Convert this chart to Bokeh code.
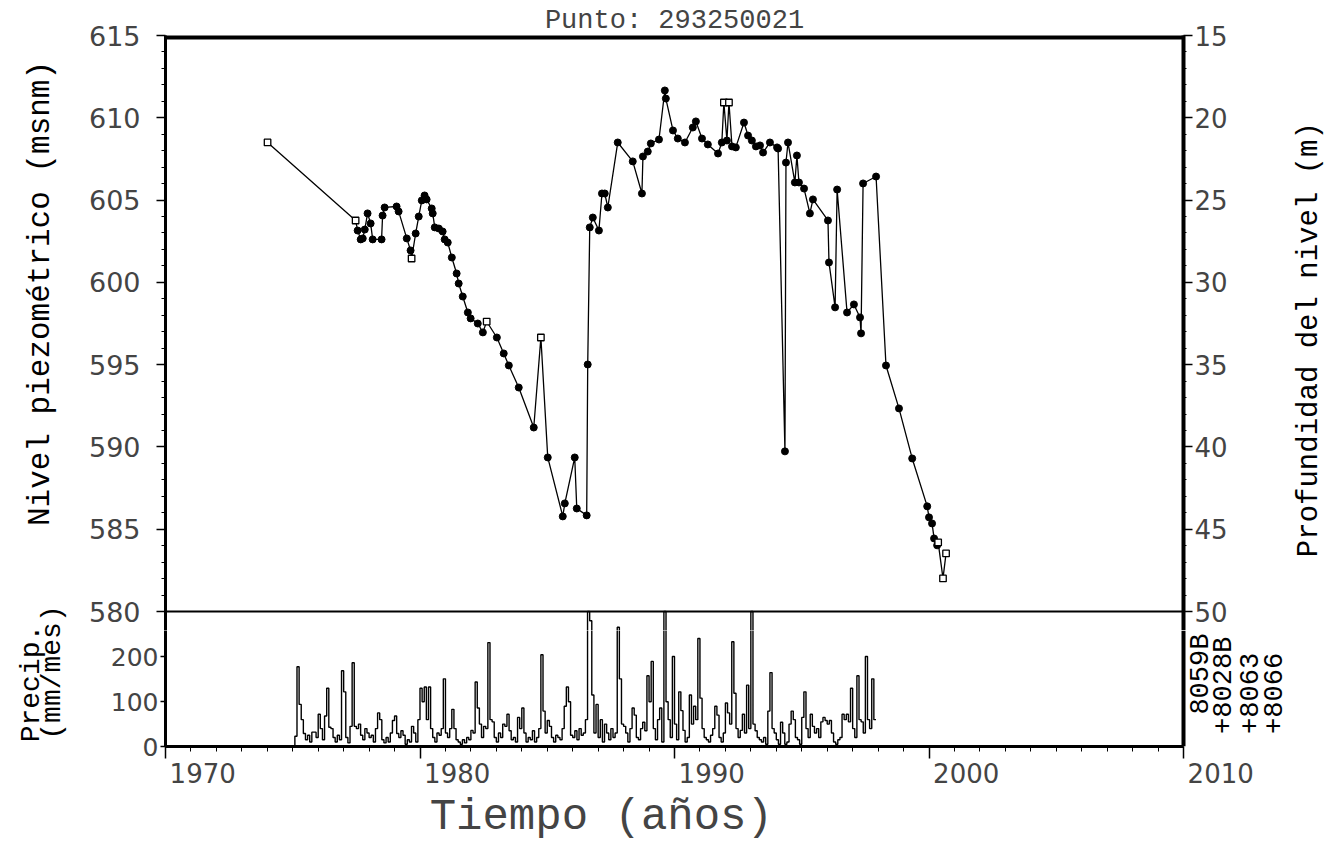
import math
from bokeh.plotting import figure
from bokeh.layouts import column, row
from bokeh.models import Range1d, LinearAxis, FixedTicker, Span
from bokeh.core.properties import value
from bokeh.embed import file_html
from bokeh.resources import INLINE

# ---------------- data ----------------
titulo = "Punto: 293250021"
anio = [1974.01, 1977.47, 1977.55, 1977.67, 1977.75, 1977.83, 1977.94, 1978.06, 1978.14,
        1978.49, 1978.53, 1978.61, 1979.08, 1979.16, 1979.48, 1979.63, 1979.67, 1979.83,
        1979.95, 1980.07, 1980.18, 1980.26, 1980.46, 1980.50, 1980.58, 1980.74, 1980.89,
        1980.97, 1981.09, 1981.25, 1981.44, 1981.52, 1981.68, 1981.88, 1981.99, 1982.27,
        1982.47, 1982.62, 1983.02, 1983.29, 1983.49, 1983.88, 1984.47, 1984.75, 1985.02,
        1985.61, 1985.69, 1986.08, 1986.16, 1986.55, 1986.59, 1986.67, 1986.79, 1987.03,
        1987.15, 1987.26, 1987.38, 1987.77, 1988.36, 1988.72, 1988.76, 1988.95, 1989.07,
        1989.39, 1989.62, 1989.66, 1989.94, 1990.13, 1990.41, 1990.72, 1990.84, 1991.08,
        1991.31, 1991.71, 1991.86, 1991.94, 1992.06, 1992.14, 1992.26, 1992.41, 1992.73,
        1992.89, 1993.04, 1993.20, 1993.36, 1993.48, 1993.75, 1994.03, 1994.07, 1994.34,
        1994.38, 1994.46, 1994.73, 1994.81, 1994.89, 1995.09, 1995.32, 1995.44, 1996.03,
        1996.07, 1996.31, 1996.39, 1996.78, 1997.05, 1997.29, 1997.33, 1997.41, 1997.92,
        1998.31, 1998.82, 1999.34, 1999.93, 2000.00, 2000.12, 2000.20, 2000.32, 2000.36,
        2000.55, 2000.67]
nivel = [608.50, 603.76, 603.15, 602.61, 602.67, 603.21, 604.19, 603.58, 602.61,
         602.61, 604.06, 604.55, 604.61, 604.31, 602.67, 601.94, 601.45, 602.97,
         604.00, 604.98, 605.28, 605.04, 604.49, 604.19, 603.34, 603.27, 603.09,
         602.61, 602.42, 601.51, 600.54, 599.93, 599.14, 598.17, 597.81, 597.50,
         596.96, 597.62, 596.65, 595.68, 594.95, 593.61, 591.18, 596.65, 589.36,
         585.78, 586.57, 589.36, 586.26, 585.84, 595.01, 603.34, 603.94, 603.15,
         605.40, 605.40, 604.55, 608.50, 607.35, 605.40, 607.65, 607.95, 608.44,
         608.68, 611.66, 611.17, 609.23, 608.74, 608.50, 609.41, 609.78, 608.74,
         608.38, 607.83, 608.50, 610.93, 608.62, 610.93, 608.26, 608.20, 609.71,
         608.92, 608.62, 608.26, 608.32, 607.89, 608.50, 608.20, 608.13, 589.73,
         607.28, 608.50, 606.07, 607.71, 606.07, 605.70, 604.19, 605.04, 603.76,
         601.21, 598.48, 605.64, 598.17, 598.66, 597.87, 596.90, 606.01, 606.43,
         594.95, 592.34, 589.30, 586.39, 585.72, 585.35, 584.44, 584.02, 584.20,
         582.01, 583.53]
# measurements drawn with an open symbol in the original
abiertos = [0, 1, 16, 37, 43, 75, 77, 116, 117, 118]

precip_inicio = 1975 + 1 / 12          # first monthly value (Feb 1975)
precip_mm = [23, 178, 94, 60, 29, 15, 25, 10, 32, 32,
             20, 72, 40, 15, 68, 130, 43, 40, 20, 10,
             25, 15, 169, 122, 20, 8, 45, 187, 45, 40,
             50, 25, 15, 40, 30, 20, 25, 10, 40, 75,
             60, 15, 8, 20, 10, 30, 58, 68, 29, 20,
             35, 25, 5, 15, 10, 45, 30, 10, 60, 130,
             100, 133, 60, 133, 40, 20, 10, 30, 25, 40,
             151, 30, 20, 40, 83, 40, 15, 10, 5, 15,
             8, 20, 15, 36, 30, 144, 86, 50, 20, 45,
             40, 232, 60, 55, 20, 10, 30, 20, 50, 45,
             72, 35, 15, 20, 10, 65, 40, 86, 30, 10,
             20, 15, 35, 10, 20, 40, 205, 79, 30, 58,
             45, 20, 10, 25, 20, 15, 40, 90, 133, 100,
             25, 20, 35, 15, 40, 25, 30, 60, 300, 280,
             115, 30, 94, 20, 60, 10, 50, 30, 15, 40,
             20, 30, 266, 151, 50, 45, 30, 10, 40, 86,
             70, 20, 15, 40, 54, 35, 158, 100, 190, 40,
             15, 60, 86, 10, 300, 100, 60, 20, 201, 50,
             15, 122, 80, 36, 10, 20, 115, 50, 90, 60,
             241, 108, 40, 20, 15, 10, 25, 40, 90, 70,
             20, 10, 30, 97, 75, 50, 234, 119, 40, 20,
             36, 72, 30, 137, 40, 300, 50, 35, 20, 15,
             10, 20, 5, 79, 165, 40, 30, 15, 5, 54,
             30, 5, 10, 50, 79, 60, 20, 15, 5, 65,
             122, 40, 20, 72, 45, 30, 40, 20, 55, 65,
             58, 50, 58, 30, 10, 5, 15, 20, 72, 60,
             72, 55, 130, 40, 20, 158, 60, 55, 30, 201,
             60, 40, 151, 60]

ticks_anio = [1970, 1980, 1990, 2000, 2010]
ticks_nivel = [580, 585, 590, 595, 600, 605, 610, 615]
ticks_prof = [15, 20, 25, 30, 35, 40, 45, 50]
ticks_precip = [0, 100, 200]
estaciones = ["8059B", "+8028B", "+8063", "+8066"]

# ---------------- layout (page pixels) ----------------
W, H = 1327, 844
WL = 74                     # strip on the left for the vertical titles
W3 = 37                     # strip on the right for the depth title
FL, FR = 165, 1183          # frame left / right
FT = 35                     # top of level panel (615)
SEP = 611                   # 580 line = top of precip panel (300 mm)
CUT = 630                   # where the two stacked figures meet
FB = 750                    # precipitation zero
H_BOT = H - CUT
X0, X1 = 1970, 2010
N_TOP, N_BOT = 615, 580
P_TOP = 300
pxy = (FR - FL) / (X1 - X0)             # px per year
pxl = (SEP - FT) / (N_TOP - N_BOT)      # px per metre
pxp = (FB - SEP) / P_TOP                # px per mm
LV_BOT = N_BOT - (CUT - SEP) / pxl      # level value at the cut
PR_CUT = (FB - CUT) / pxp               # precip value at the cut
PR_TOPFIG = (FB - FT) / pxp             # precip value at top of upper frame
X2 = X0 + (W - FL) / pxy                # year at right edge of lower frame

MONO = "Liberation Mono"
SANS = "DejaVu Sans"
NB = "\u00a0"


def clean(fig):
    fig.outline_line_color = None
    fig.xgrid.visible = False
    fig.ygrid.visible = False
    fig.background_fill_color = "white"
    fig.border_fill_color = "white"


def strip(width, height):
    f = figure(width=width, height=height, x_range=Range1d(0, width),
               y_range=Range1d(height, 0), title=None,
               output_backend="svg", toolbar_location=None,
               x_axis_location=None, y_axis_location=None,
               min_border_left=0, min_border_right=0, min_border_top=0,
               min_border_bottom=0)
    clean(f)
    return f


def vtext(fig, x, y, text, size):
    fig.text(x=[x], y=[y], text=[text], angle=math.pi / 2, text_align="center",
             text_baseline="middle", text_font=value(MONO), text_font_size=size,
             text_color="black")


# ---------- upper figure: piezometric level ----------
p1 = figure(width=W - WL - W3, height=CUT, x_range=Range1d(X0, X1),
            y_range=Range1d(LV_BOT, N_TOP),
            output_backend="svg", toolbar_location=None,
            x_axis_location=None, y_axis_location=None,
            min_border_left=FL - WL, min_border_right=W - W3 - FR,
            min_border_top=FT, min_border_bottom=0)
clean(p1)
p1.extra_y_ranges = {"prof": Range1d(630 - LV_BOT, 630 - N_TOP),
                     "precip": Range1d(PR_CUT, PR_TOPFIG)}

p1.title.text = titulo
p1.title.align = "center"
p1.title.text_font = MONO
p1.title.text_font_size = "27px"
p1.title.text_font_style = "normal"
p1.title.standoff = 0
p1.title.offset = 0

ya = LinearAxis(ticker=FixedTicker(ticks=ticks_nivel, minor_ticks=list(range(580, 616))),
                axis_line_width=3, major_tick_out=9, major_tick_in=0,
                minor_tick_out=4, minor_tick_in=0, major_tick_line_width=1.5,
                major_label_standoff=16, major_label_text_font=SANS,
                major_label_text_font_size="27px")
p1.add_layout(ya, "left")

ra = LinearAxis(y_range_name="prof",
                ticker=FixedTicker(ticks=ticks_prof, minor_ticks=list(range(15, 51))),
                axis_line_width=4, major_tick_out=9, major_tick_in=0,
                minor_tick_out=3, minor_tick_in=0, major_tick_line_width=1.5,
                major_label_standoff=2, major_label_text_font=SANS,
                major_label_text_font_size="26px")
p1.add_layout(ra, "right")

p1.add_layout(Span(location=N_TOP, dimension="width", line_color="black", line_width=8))
p1.add_layout(Span(location=N_BOT, dimension="width", line_color="black", line_width=2))

# ---------- side strips with the vertical titles ----------
pL = strip(WL, H)
vtext(pL, 40, 293, "Nivel piezométrico (msnm)", "31px")
vtext(pL, 31, 683, "Precip.", "28px")
vtext(pL, 52, 672, "(mm/mes)", "28px")

p3 = strip(W3, CUT)
vtext(p3, 19, 322, "Profundidad del nivel (m)", "29px")

# ---------- lower figure: precipitation ----------
p2 = figure(width=W - WL, height=H_BOT, x_range=Range1d(X0, X2), y_range=Range1d(0, PR_CUT),
            title=None, output_backend="svg", toolbar_location=None,
            x_axis_location=None, y_axis_location=None,
            min_border_left=FL - WL, min_border_right=0,
            min_border_top=0, min_border_bottom=H_BOT - (FB - CUT))
clean(p2)

xa = LinearAxis(ticker=FixedTicker(ticks=ticks_anio, minor_ticks=list(range(X0, X1 + 1))),
                bounds=(X0, X1),
                axis_line_width=3, major_tick_out=12, major_tick_in=0,
                minor_tick_out=5, minor_tick_in=0, major_tick_line_width=1.5,
                major_label_standoff=0, major_label_text_font=SANS,
                major_label_text_font_size="26px",
                major_label_overrides={a: NB * 9 + str(a) for a in ticks_anio},
                axis_label="Tiempo (años)" + NB * 11,
                axis_label_text_font=MONO, axis_label_text_font_size="44px",
                axis_label_text_font_style="normal", axis_label_standoff=0)
p2.add_layout(xa, "below")

pa = LinearAxis(ticker=FixedTicker(ticks=ticks_precip, minor_ticks=[]),
                axis_line_width=3, major_tick_out=5, major_tick_in=0,
                major_tick_line_width=1.5, major_label_standoff=2,
                major_label_text_font=SANS, major_label_text_font_size="25px")
p2.add_layout(pa, "left")

p2.add_layout(Span(location=X1, dimension="height", line_color="black", line_width=4))

# station names of the rain gauges, written upward beside the precipitation panel
est_px = [1200, 1223, 1248, 1272]
est_py = [717, 737, 737, 737]
p2.text(x=[X1 + (px - FR) / pxy for px in est_px],
        y=[(FB - py) / pxp for py in est_py],
        text=estaciones, angle=math.pi / 2, text_align="left", text_baseline="middle",
        text_font=value(MONO), text_font_size="27px", text_color="black")

# ---------- marks ----------
xs = [precip_inicio + i / 12 for i in range(len(precip_mm) + 1)]
sx = [xs[0]] + xs
sy = [0] + precip_mm + [precip_mm[-1]]
for fig, rng in ((p1, "precip"), (p2, "default")):
    fig.step(sx, sy, mode="after", y_range_name=rng, line_color="black", line_width=1.4)

p1.line(anio, nivel, line_color="black", line_width=1.3)
llenos = [i for i in range(len(anio)) if i not in abiertos]
p1.scatter([anio[i] for i in llenos], [nivel[i] for i in llenos], marker="circle",
           size=7, fill_color="black", line_color="black")
p1.scatter([anio[i] for i in abiertos], [nivel[i] for i in abiertos], marker="square",
           size=6.5, fill_color="white", line_color="black", line_width=1.3)

layout = row(pL, column(row(p1, p3, spacing=0), p2, spacing=0), spacing=0)
open("out.html", "w").write(file_html(layout, INLINE))
